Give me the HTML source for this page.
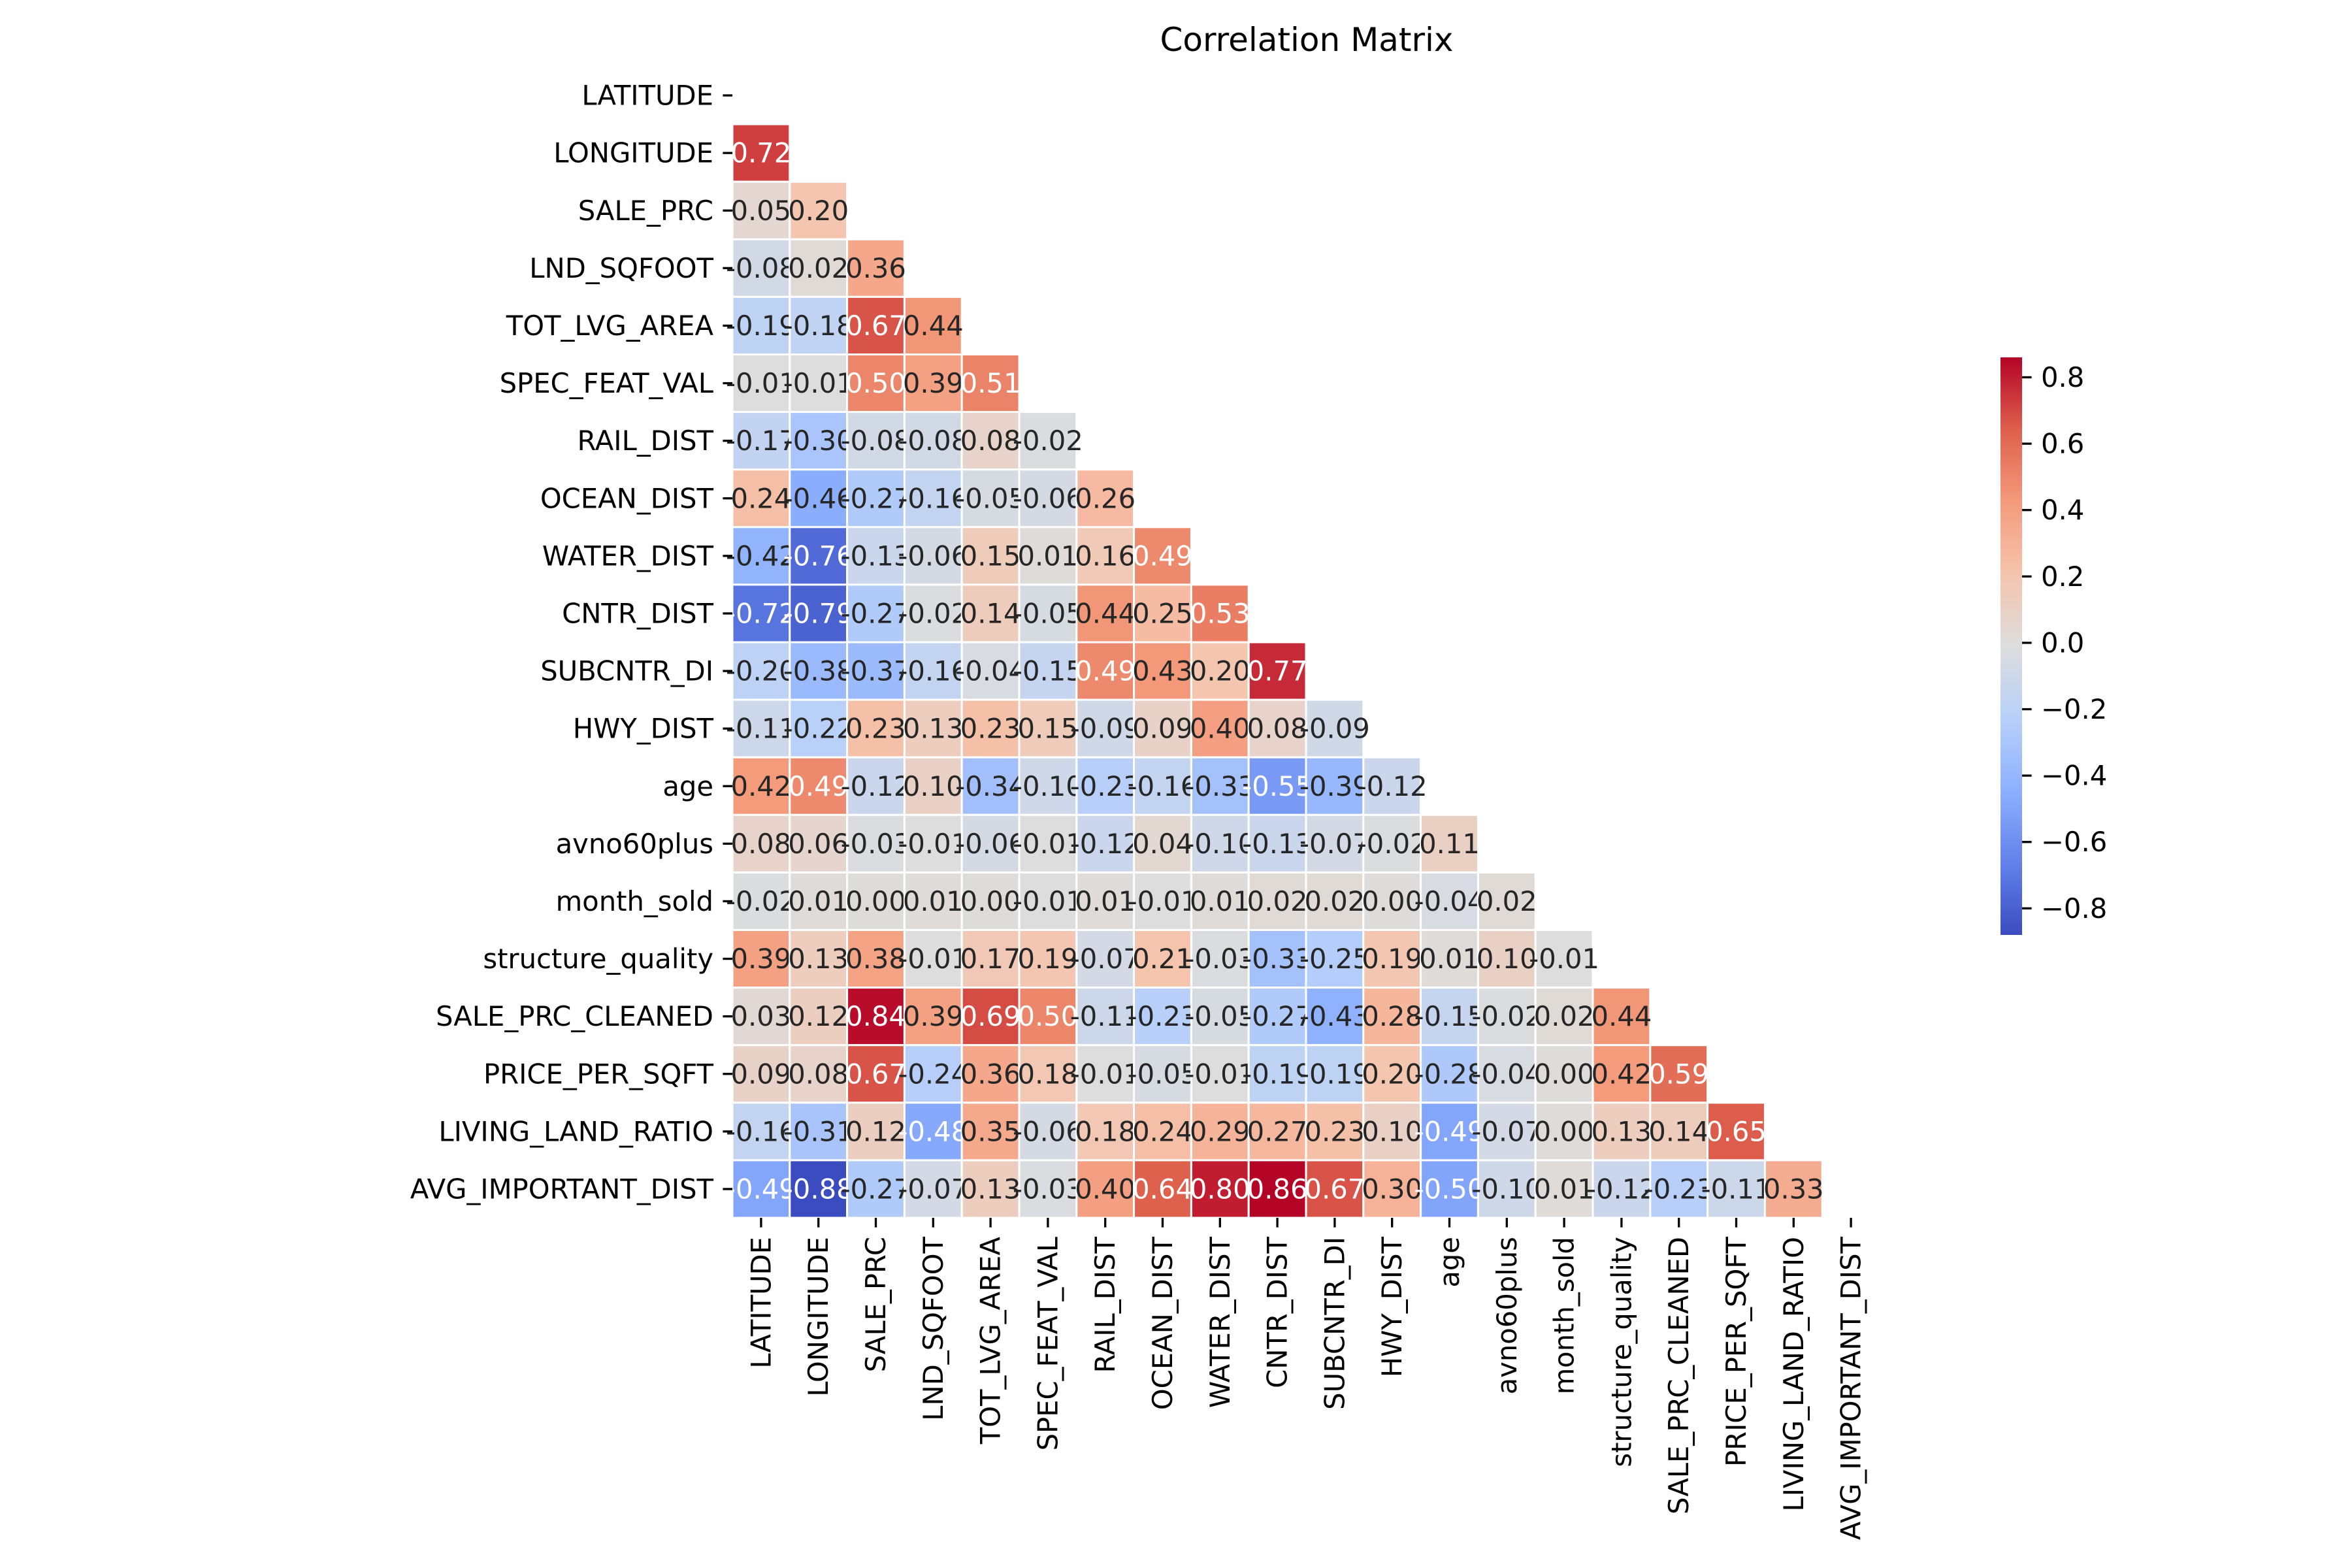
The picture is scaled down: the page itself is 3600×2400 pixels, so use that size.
<!DOCTYPE html>
<html><head><meta charset="utf-8"><style>html,body{margin:0;padding:0;background:#fff}svg{display:block}</style></head>
<body>
<svg id="chart" xmlns="http://www.w3.org/2000/svg" width="3600" height="2400" viewBox="0 0 3600 2400" font-family="DejaVu Sans, Liberation Sans, sans-serif">
<rect width="3600" height="2400" fill="#fff"/>
<text x="2000" y="78" font-size="50" text-anchor="middle" fill="#000">Correlation Matrix</text>
<g id="cells"></g><g id="yticks"></g><g id="xticks"></g><g id="cbar"></g>
</svg>
<script>
const labels = ["LATITUDE","LONGITUDE","SALE_PRC","LND_SQFOOT","TOT_LVG_AREA","SPEC_FEAT_VAL","RAIL_DIST","OCEAN_DIST","WATER_DIST","CNTR_DIST","SUBCNTR_DI","HWY_DIST","age","avno60plus","month_sold","structure_quality","SALE_PRC_CLEANED","PRICE_PER_SQFT","LIVING_LAND_RATIO","AVG_IMPORTANT_DIST"];
const row1 = [0.72];
const row2 = [0.05,0.20];
const row3 = [-0.08,0.02,0.36];
const row4 = [-0.19,-0.18,0.67,0.44];
const row5 = [-0.01,-0.01,0.50,0.39,0.51];
const row6 = [-0.17,-0.30,-0.08,-0.08,0.08,-0.02];
const row7 = [0.24,-0.46,-0.27,-0.16,-0.05,-0.06,0.26];
const row8 = [-0.42,-0.76,-0.13,-0.06,0.15,0.01,0.16,0.49];
const row9 = [-0.72,-0.79,-0.27,-0.02,0.14,-0.05,0.44,0.25,0.53];
const row10 = [-0.20,-0.38,-0.37,-0.16,-0.04,-0.15,0.49,0.43,0.20,0.77];
const row11 = [-0.11,-0.22,0.23,0.13,0.23,0.15,-0.09,0.09,0.40,0.08,-0.09];
const row12 = [0.42,0.49,-0.12,0.10,-0.34,-0.10,-0.23,-0.16,-0.33,-0.55,-0.39,-0.12];
const row13 = [0.08,0.06,-0.03,-0.01,-0.06,-0.01,-0.12,0.04,-0.10,-0.13,-0.07,-0.02,0.11];
const row14 = [-0.02,0.01,0.00,0.01,0.00,-0.01,0.01,-0.01,0.01,0.02,0.02,-0.00,-0.04,0.02];
const row15 = [0.39,0.13,0.38,-0.01,0.17,0.19,-0.07,0.21,-0.03,-0.33,-0.25,0.19,0.01,0.10,-0.01];
const row16 = [0.03,0.12,0.84,0.39,0.69,0.50,-0.11,-0.23,-0.05,-0.27,-0.43,0.28,-0.15,-0.02,0.02,0.44];
const row17 = [0.09,0.08,0.67,-0.24,0.36,0.18,-0.01,-0.05,-0.01,-0.19,-0.19,0.20,-0.28,-0.04,0.00,0.42,0.59];
const row18 = [-0.16,-0.31,0.12,-0.48,0.35,-0.06,0.18,0.24,0.29,0.27,0.23,0.10,-0.49,-0.07,-0.00,0.13,0.14,0.65];
const row19 = [-0.49,-0.88,-0.27,-0.07,0.13,-0.03,0.40,0.64,0.80,0.86,0.67,0.30,-0.50,-0.10,0.01,-0.12,-0.23,-0.11,0.33];
const cbarTicks = [-0.8,-0.6,-0.4,-0.2,0.0,0.2,0.4,0.6,0.8];
const vmin = -0.88, vmax = 0.86;

const rows = [[],row1,row2,row3,row4,row5,row6,row7,row8,row9,row10,row11,row12,row13,row14,row15,row16,row17,row18,row19];
const NS = "http://www.w3.org/2000/svg";
const X0 = 1121, Y0 = 102, CW = 87.8, CH = 88.1;
const xPos = i => X0 + i * CW;
const yPos = j => Y0 + j * CH;
const stops = [[59,76,192],[98,130,234],[141,176,254],[184,208,249],[221,221,221],[245,196,173],[244,154,123],[222,96,77],[180,4,38]];
function cmap(v){
  let t = Math.max(0, Math.min(1, (v - vmin) / (vmax - vmin))) * 8;
  let i = Math.min(7, Math.floor(t)), f = t - i;
  return stops[i].map((c,k)=>Math.round(c + (stops[i+1][k]-c)*f));
}
function lum(c){
  const l = c.map(x=>{x/=255;return x<=0.03928?x/12.92:Math.pow((x+0.055)/1.055,2.4);});
  return 0.2126*l[0]+0.7152*l[1]+0.0722*l[2];
}
function mk(tag, attrs, parent){
  const e = document.createElementNS(NS, tag);
  for (const k in attrs) e.setAttribute(k, attrs[k]);
  parent.appendChild(e); return e;
}
const cells = document.getElementById('cells');
rows.forEach((r, j) => {
  r.forEach((v, i) => {
    const c = cmap(v);
    const rect = mk('rect', {x: xPos(i), y: yPos(j), width: CW, height: CH, fill: `rgb(${c.join(',')})`, stroke: '#fff', 'stroke-width': 3}, cells);
    
    
    const t = mk('text', {x: xPos(i) + CW/2, y: yPos(j) + CH/2, 'font-size': 41.7, 'text-anchor': 'middle', 'dominant-baseline': 'central', fill: lum(c) > 0.408 ? '#262626' : '#ffffff'}, cells);
    t.textContent = v.toFixed(2);
    
    
  });
});
const yt = document.getElementById('yticks');
labels.forEach((lab, j) => {
  const y = yPos(j) + CH/2;
  const tk = mk('line', {x1: X0 - 14.6, x2: X0, y1: y, y2: y, stroke: '#000', 'stroke-width': 3.3}, yt);
  
  
  const t = mk('text', {x: X0 - 29, y: y, 'font-size': 41.7, 'text-anchor': 'end', 'dominant-baseline': 'central', fill: '#000'}, yt);
  t.textContent = lab;
  
  
});
const xt = document.getElementById('xticks');
const YB = yPos(20);
labels.forEach((lab, i) => {
  const x = xPos(i) + CW/2;
  const tk = mk('line', {x1: x, x2: x, y1: YB, y2: YB + 14.6, stroke: '#000', 'stroke-width': 3.3}, xt);
  
  
  const t = mk('text', {x: 0, y: 0, 'font-size': 41.7, 'text-anchor': 'end', 'dominant-baseline': 'central', fill: '#000', transform: `translate(${x},${YB + 29}) rotate(-90)`}, xt);
  t.textContent = lab;
  
  
});
const cb = document.getElementById('cbar');
const CBX = 3062, CBW = 33, CBT = 547, CBB = 1431;
const cbY = v => CBB - (v - vmin) / (vmax - vmin) * (CBB - CBT);
const defs = mk('defs', {}, cb);
const grad = mk('linearGradient', {id: 'cg', x1: 0, y1: 1, x2: 0, y2: 0}, defs);
for (let k = 0; k <= 40; k++) {
  const v = vmin + (vmax - vmin) * k / 40;
  mk('stop', {offset: k / 40, 'stop-color': `rgb(${cmap(v).join(',')})`}, grad);
}
const bar = mk('rect', {x: CBX, y: CBT, width: CBW, height: CBB - CBT, fill: 'url(#cg)'}, cb);


cbarTicks.forEach(v => {
  const y = cbY(v);
  const tk = mk('line', {x1: CBX + CBW, x2: CBX + CBW + 14.6, y1: y, y2: y, stroke: '#000', 'stroke-width': 3.3}, cb);
  
  
  const t = mk('text', {x: CBX + CBW + 29, y: y, 'font-size': 41.7, 'dominant-baseline': 'central', fill: '#000'}, cb);
  t.textContent = v.toFixed(1).replace('-', '\u2212');
  
  
});
</script>
</body></html>
